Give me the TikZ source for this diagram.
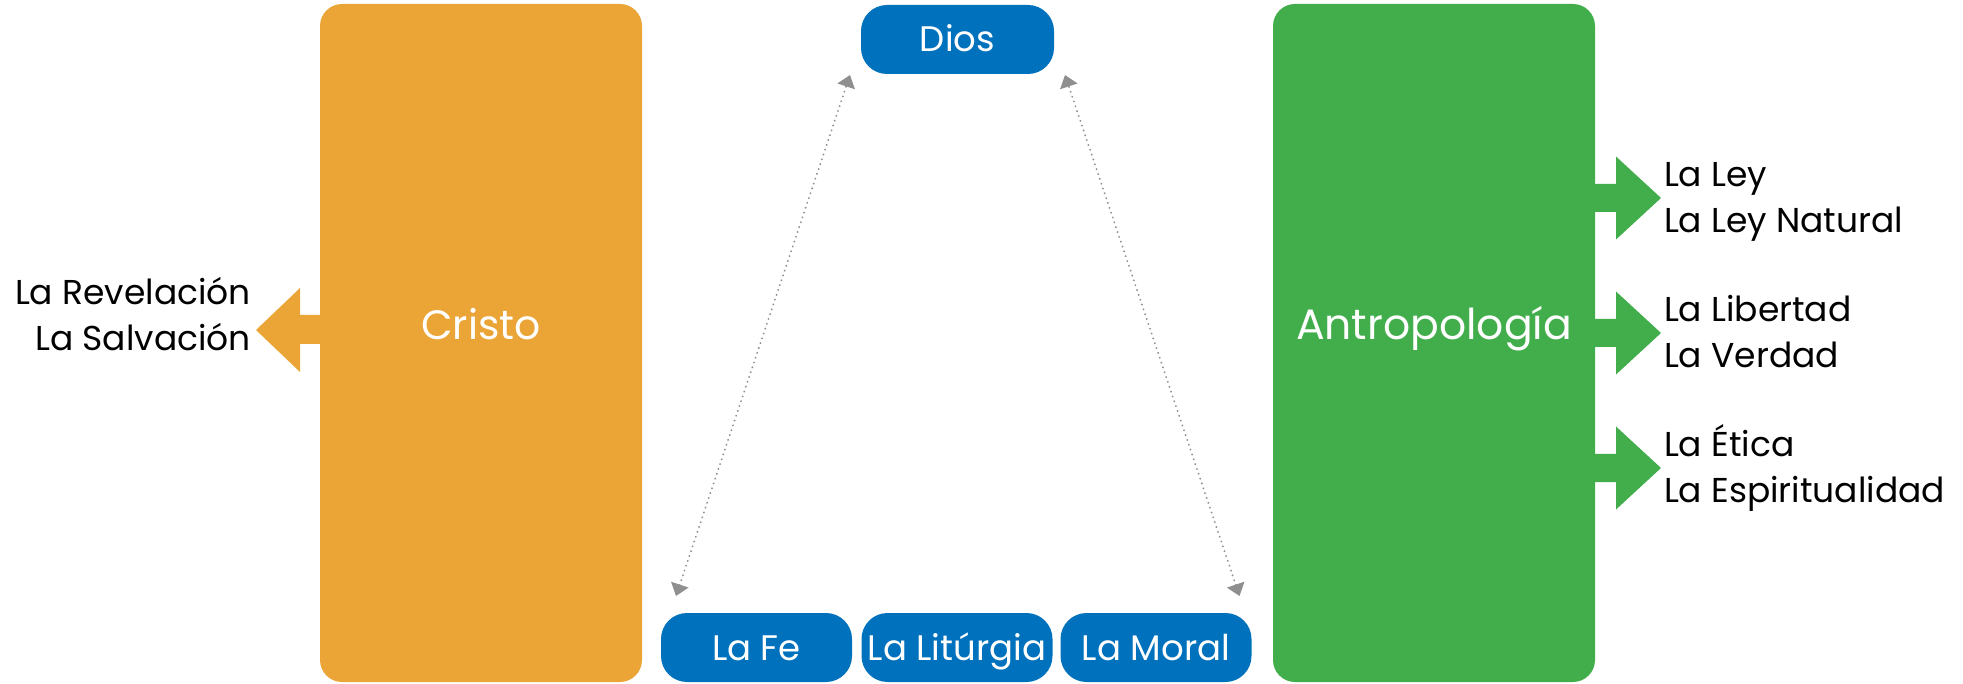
\documentclass[tikz,border=0pt]{standalone}
\usepackage{fontspec}
\setmainfont{Poppins}
\usetikzlibrary{arrows.meta}
\definecolor{orangec}{HTML}{EBA536}
\definecolor{greenc}{HTML}{42AD4B}
\definecolor{bluec}{HTML}{0071BC}
\definecolor{grayc}{HTML}{8F8F8F}
\begin{document}
\begin{tikzpicture}[x=1pt,y=-1pt,
  bigbox/.style={rectangle, rounded corners=22pt, inner sep=0pt, outer sep=0pt,
    minimum width=322pt, minimum height=678pt, text=white,
    font=\fontsize{41}{44}\selectfont, text height=29pt, text depth=36pt},
  pill/.style={rectangle, rounded corners=26pt, inner sep=0pt, outer sep=0pt, fill=bluec,
    minimum width=191pt, minimum height=69pt, text=white,
    font=\fontsize{35.5}{40}\selectfont, text height=25pt, text depth=0pt},
  lbl/.style={inner sep=0pt, outer sep=0pt, font=\fontsize{34.5}{46}\selectfont},
  conn/.style={grayc, line width=2pt, dash pattern=on 0.1pt off 5pt, line cap=round,
    {Triangle[length=12pt,width=18pt,line cap=butt]}-{Triangle[length=12pt,width=18pt,line cap=butt]}}
]
\useasboundingbox (0,0) rectangle (1963,684);

% big boxes
\node[bigbox, fill=orangec] (cristo) at (481,343) {Cristo};
\node[bigbox, fill=greenc, font=\fontsize{42.5}{44}\selectfont] (antro) at (1434,343) {Antropología};

% blue pills
\node[pill, minimum width=193pt] (dios) at (957.5,39.5) {Dios};
\node[pill] (fe) at (756.5,647.5) {La Fe};
\node[pill] (lit) at (957,647.5) {La Litúrgia};
\node[pill] (moral) at (1156,647.5) {La Moral};

% block arrow left
\fill[orangec] (cristo.west |- 0,315) -- (300,315) -- (300,288) -- (256,330) -- (300,372) -- (300,344) -- (cristo.west |- 0,344) -- cycle;
% block arrows right
\foreach \y in {198,333,468}
  \fill[greenc] (antro.east |- 0,\y-14) -- (1616,\y-14) -- (1616,\y-41.5) -- (1661,\y) -- (1616,\y+41.5) -- (1616,\y+14) -- (antro.east |- 0,\y+14) -- cycle;

% labels (base anchor = last line's baseline)
\node[lbl, anchor=base east, align=right] (left) at (251,351) {La Revelación\\La Salvación};
\node[lbl, anchor=base west, align=left] (r1) at (1664,233) {La Ley\\La Ley Natural};
\node[lbl, anchor=base west, align=left] (r2) at (1664,368) {La Libertad\\La Verdad};
\node[lbl, anchor=base west, align=left] (r3) at (1664,502) {La Ética\\La Espiritualidad};

% dotted connectors
\draw[conn] ([xshift=15pt,yshift=17pt]fe.north west) -- ([xshift=-11pt,yshift=-1pt]dios.south west);
\draw[conn] ([xshift=-12pt,yshift=17pt]moral.north east) -- ([xshift=11pt,yshift=-1pt]dios.south east);
\end{tikzpicture}
\end{document}
